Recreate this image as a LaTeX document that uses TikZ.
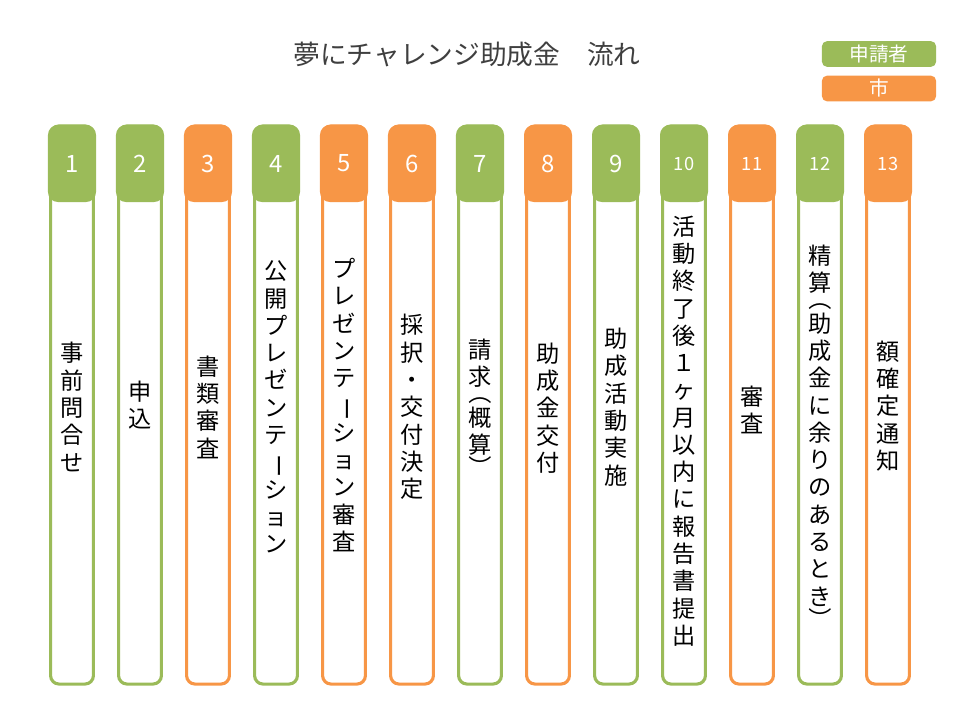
\documentclass[tikz,border=0pt]{standalone}
\usepackage{fontspec}
\usepackage{graphicx}
\newfontfamily\jp{Noto Sans CJK JP}
\definecolor{grn}{HTML}{9BBB59}
\definecolor{org}{HTML}{F79646}
\definecolor{ttl}{HTML}{3F3F3F}
\newcommand{\chou}{\rotatebox[origin=c]{-90}{ー}}
\newcommand{\kakkoL}{\rotatebox[origin=c]{-90}{（}}
\newcommand{\kakkoR}{\rotatebox[origin=c]{-90}{）}}
\tikzset{
  colbox/.style={draw=#1, line width=2.2pt, rounded corners=6pt, fill=white,
    minimum width=1.07cm, minimum height=13.95cm, inner sep=0pt},
  headbox/.style={fill=#1, rounded corners=7pt, minimum width=1.2cm,
    minimum height=1.925cm, inner sep=0pt, text=white},
  numbig/.style={font=\jp\fontsize{17}{20}\selectfont},
  numsmall/.style={font=\jp\fontsize{13}{16}\selectfont},
  coltext/.style={align=center, inner sep=0pt, font=\jp\fontsize{16.5}{19.4}\selectfont},
  legbox/.style={fill=#1, rounded corners=3.5pt, minimum width=2.85cm,
    minimum height=0.64cm, inner sep=0pt, text=white, font=\jp\fontsize{14}{16}\selectfont}
}
\begin{document}
\begin{tikzpicture}[x=0.025cm,y=-0.025cm]
\useasboundingbox (0,0) rectangle (960,720);

% title and legend
\node[text=ttl, font=\jp\fontsize{19}{22}\selectfont] (title) at (467,54) {夢にチャレンジ助成金　流れ};
\node[legbox=grn] (leg-app) at (879,54) {申請者};
\node[legbox=org] (leg-city) at (879,88.5) {市};

% columns
\foreach \n/\c/\ty/\t in {
  1/grn/407/{事\\前\\問\\合\\せ},
  2/grn/405/{申\\込},
  3/org/407/{書\\類\\審\\査},
  4/grn/407/{公\\開\\プ\\レ\\ゼ\\ン\\テ\\\chou\\シ\\ョ\\ン},
  5/org/405/{プ\\レ\\ゼ\\ン\\テ\\\chou\\シ\\ョ\\ン\\審\\査},
  6/org/407/{採\\択\\・\\交\\付\\決\\定},
  7/grn/409/{請\\求\\[-8pt]\kakkoL\\[-2pt]概\\算\\[-3pt]\kakkoR},
  8/org/408/{助\\成\\金\\交\\付},
  9/grn/407/{助\\成\\活\\動\\実\\施},
  10/grn/431/{活\\動\\終\\了\\後\\１\\ヶ\\月\\以\\内\\に\\報\\告\\書\\提\\出},
  11/org/410/{審\\査},
  12/grn/438/{精\\算\\[-8pt]\kakkoL\\[-2pt]助\\成\\金\\に\\余\\り\\の\\あ\\る\\と\\き\\[-3pt]\kakkoR},
  13/org/406/{額\\確\\定\\通\\知}}
{
  \pgfmathsetmacro{\x}{72+68*(\n-1)}
  \ifnum\n<10 \def\ns{numbig}\else\def\ns{numsmall}\fi
  \node[colbox=\c] (col\n) at (\x,405) {};
  \node[headbox=\c, \ns] (head\n) at (\x,163.5) {\n};
  \node[coltext] (txt\n) at (\x,\ty) {\t};
}
\end{tikzpicture}
\end{document}
